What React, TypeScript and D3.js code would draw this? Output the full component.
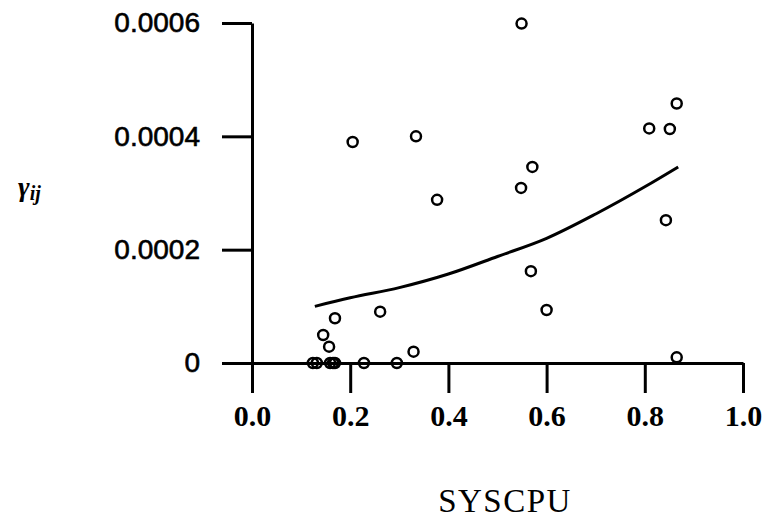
import React, { useEffect, useRef } from 'react';
import * as d3 from 'd3';

// scattered observations (SYSCPU, gamma_ij)
const pointX = [0.549, 0.865, 0.809, 0.851, 0.571, 0.548, 0.377, 0.843, 0.568, 0.600, 0.865,
  0.205, 0.334, 0.169, 0.261, 0.145, 0.157, 0.329,
  0.124, 0.132, 0.159, 0.165, 0.169, 0.228, 0.295];
const pointY = [0.000599, 0.000458, 0.000414, 0.000413, 0.000346, 0.000309, 0.000288, 0.000252, 0.000162, 0.0000935, 0.00001,
  0.00039, 0.0004, 0.0000789, 0.0000906, 0.0000494, 0.0000288, 0.00002,
  0, 0, 0, 0, 0, 0, 0];

// fitted curve
const fitX = [0.128, 0.2, 0.3, 0.4, 0.5, 0.6, 0.7, 0.8, 0.868];
const fitY = [0.0001, 0.000115, 0.000133, 0.000157, 0.000188, 0.00022, 0.000263, 0.000311, 0.000346];

const xTicks = [0, 0.2, 0.4, 0.6, 0.8, 1.0];
const yTicks = [0, 0.0002, 0.0004, 0.0006];
const yTickLabels = ['0', '0.0002', '0.0004', '0.0006'];

function App() {
  const svgRef = useRef<SVGSVGElement>(null);

  useEffect(() => {
    const svg = d3.select(svgRef.current);
    svg.selectAll('*').remove();

    const width = 765;
    const height = 522;
    svg.attr('width', width).attr('height', height);

    const x = d3.scaleLinear().domain([0, 1]).range([252, 743]);
    const y = d3.scaleLinear().domain([0, 0.0006]).range([363, 23]);

    // x axis
    const gx = svg.append('g')
      .attr('transform', `translate(0,${y(0)})`)
      .call(d3.axisBottom(x).tickValues(xTicks).tickSize(30).tickSizeOuter(0).tickPadding(12)
        .tickFormat(d3.format('.1f')));
    gx.select('.domain').attr('stroke-width', 3);
    gx.selectAll('.tick line').attr('stroke-width', 3);
    gx.selectAll('.tick text')
      .attr('font-family', '"Liberation Serif", serif')
      .attr('font-weight', 'bold')
      .attr('font-size', 30)
      .attr('fill', '#000');

    // y axis
    const gy = svg.append('g')
      .attr('transform', `translate(${x(0)},0)`)
      .call(d3.axisLeft(y).tickValues(yTicks).tickSize(30).tickSizeOuter(0).tickPadding(22)
        .tickFormat((d, i) => yTickLabels[i]));
    gy.select('.domain').attr('stroke-width', 3);
    gy.selectAll('.tick line').attr('stroke-width', 3);
    gy.selectAll('.tick text')
      .attr('font-family', '"Liberation Sans", Arial, sans-serif')
      .attr('font-size', 28)
      .attr('fill', '#000')
      .attr('stroke', '#000')
      .attr('stroke-width', 0.6);

    // fitted curve
    const line = d3.line<number>()
      .x((d, i) => x(fitX[i]))
      .y(d => y(d))
      .curve(d3.curveMonotoneX);
    svg.append('path')
      .datum(fitY)
      .attr('fill', 'none')
      .attr('stroke', '#000')
      .attr('stroke-width', 3)
      .attr('d', line);

    // points
    svg.append('g')
      .selectAll('circle')
      .data(pointY)
      .join('circle')
      .attr('cx', (d, i) => x(pointX[i]))
      .attr('cy', d => y(d))
      .attr('r', 5)
      .attr('fill', 'none')
      .attr('stroke', '#000')
      .attr('stroke-width', 2.5);

    // axis titles
    svg.append('text')
      .attr('x', 505)
      .attr('y', 512)
      .attr('text-anchor', 'middle')
      .attr('font-family', '"Liberation Serif", serif')
      .attr('font-size', 33)
      .attr('letter-spacing', 1.5)
      .text('SYSCPU');

    const ylab = svg.append('text')
      .attr('x', 18)
      .attr('y', 196)
      .attr('font-family', '"Liberation Serif", serif')
      .attr('font-style', 'italic')
      .attr('font-weight', 'bold')
      .attr('font-size', 28);
    ylab.append('tspan').text('γ');
    ylab.append('tspan').attr('font-size', 20).attr('dy', 4).text('ij');
  }, []);

  return (
    <div style={{ position: 'absolute', left: 0, top: 0, background: '#fff' }}>
      <svg ref={svgRef}></svg>
    </div>
  );
}

export default App;
